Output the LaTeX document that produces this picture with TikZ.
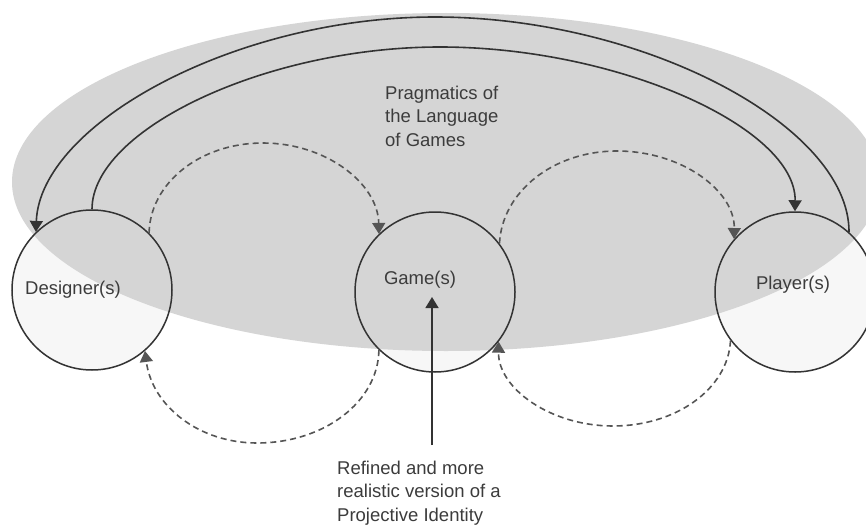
\documentclass[tikz,border=0pt]{standalone}
\usepackage{fontspec}
\setmainfont{Liberation Sans}
\usetikzlibrary{arrows.meta}
\definecolor{ellgray}{HTML}{D5D5D5}
\definecolor{circfill}{HTML}{F7F7F7}
\definecolor{linecol}{HTML}{333333}
\definecolor{dashcol}{HTML}{555555}
\definecolor{txtcol}{HTML}{3C3C3C}
\tikzset{
  ring/.style={circle, draw=linecol, line width=1.5pt, minimum size=160pt, inner sep=0pt},
  solidarrow/.style={draw=linecol, line width=1.6pt, -{Triangle[width=13pt,length=11pt]}},
  dasharrow/.style={draw=dashcol, line width=1.6pt, dash pattern=on 6pt off 4pt, -{Triangle[width=13pt,length=11pt]}},
  lbl/.style={font=\fontsize{18.5}{23.5}\selectfont, text=txtcol, inner sep=0pt},
}
\begin{document}
\begin{tikzpicture}[x=1pt,y=-1pt]
\clip (0,0) rectangle (866,527);
\useasboundingbox (0,0) rectangle (866,527);
\fill[white] (0,0) rectangle (866,527);
% circle interiors
\fill[circfill] (92,290) circle (80);
\fill[circfill] (435,292) circle (80);
\fill[circfill] (795,292) circle (80);
% big ellipse
\fill[ellgray] (446,182) ellipse [x radius=434, y radius=169];
% circles
\node[ring] (des) at (92,290) {};
\node[ring] (game) at (435,292) {};
\node[ring] (ply) at (795,292) {};
% labels
\node[lbl] (desl) at (73,290) {Designer(s)};
\node[lbl] (gamel) at (420,280) {Game(s)};
\node[lbl] (plyl) at (793,285) {Player(s)};
\node[lbl, anchor=west, align=left] (prag) at (385,116) {Pragmatics of\\the Language\\of Games};
\node[lbl, anchor=west, align=left] (refined) at (337,493) {Refined and more\\realistic version of a\\Projective Identity};
% solid arcs
\draw[solidarrow] (ply.48) .. controls (849,125) and (642,17) .. (435,17)
   .. controls (235,17) and (40,124) .. (des.134);
\draw[solidarrow] (des.90) .. controls (92,129.5) and (266,47) .. (440,47)
   .. controls (618,47) and (796,127.5) .. (ply.90);
% dashed arcs (top)
\draw[dasharrow] (des.45) .. controls (150,184) and (199,143) .. (263,143)
   .. controls (326,143) and (378,183.5) .. (game.134);
\draw[dasharrow] (game.37) .. controls (502,192) and (553,151) .. (617,151)
   .. controls (682,151) and (735,191) .. (ply.139);
% dashed arcs (bottom)
\draw[dasharrow] (game.226) .. controls (378,402) and (324,443) .. (257,443)
   .. controls (199,443) and (152,406) .. (des.-49);
\draw[dasharrow] (ply.217) .. controls (728,389) and (676,426) .. (613,426)
   .. controls (550,426) and (498,388) .. (game.-38);
% vertical arrow
\coordinate (vbot) at (432,445);
\coordinate (vtop) at (432,297);
\draw[solidarrow] (vbot) -- (vtop);
\end{tikzpicture}
\end{document}
